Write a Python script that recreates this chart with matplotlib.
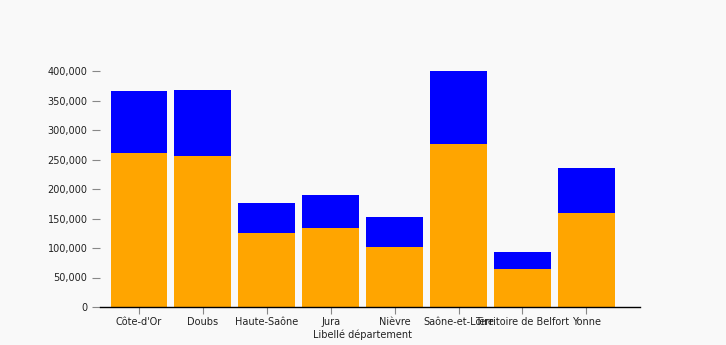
import numpy as np
import matplotlib.pyplot as plt

# departements et valeurs
departements = ["Côte-d'Or", "Doubs", "Haute-Saône", "Jura", "Nièvre",
                "Saône-et-Loire", "Territoire de Belfort", "Yonne"]
bas = [261000, 256000, 125000, 134000, 102000, 276000, 64000, 159000]
haut = [105000, 112000, 51000, 56000, 51000, 124000, 29000, 77000]

bg = "#f9f9f9"
fig = plt.figure(figsize=(7.26, 3.45), dpi=100, facecolor=bg)
ax = fig.add_axes([100/726, 38/345, 540/726, 241.9/345], facecolor=bg)

x = np.arange(len(departements))
ax.bar(x, bas, width=0.89, color="#FFA500")
ax.bar(x, haut, bottom=bas, width=0.89, color="#0000FF")

ax.set_xlim(-0.61, 7.84)
ax.set_ylim(0, 410000)
ax.set_yticks(np.arange(0, 400001, 50000))
ax.set_yticklabels(["{:,}".format(v) for v in range(0, 400001, 50000)])
ax.set_xticks(x)
ax.set_xticklabels(departements)

for s in ["top", "right", "left"]:
    ax.spines[s].set_visible(False)
ax.spines["bottom"].set_color("black")
ax.spines["bottom"].set_linewidth(1)

ax.tick_params(axis="x", colors="#888888", labelcolor="#222222", labelsize=7, length=5, pad=2)
ax.tick_params(axis="y", colors="#888888", labelcolor="#222222", labelsize=7, length=6, pad=3)

ax.set_xlabel("Libellé département", fontsize=7, color="#222222")
ax.xaxis.set_label_coords(0.487, -0.095)

plt.savefig("out.png", dpi=100, facecolor=bg)
